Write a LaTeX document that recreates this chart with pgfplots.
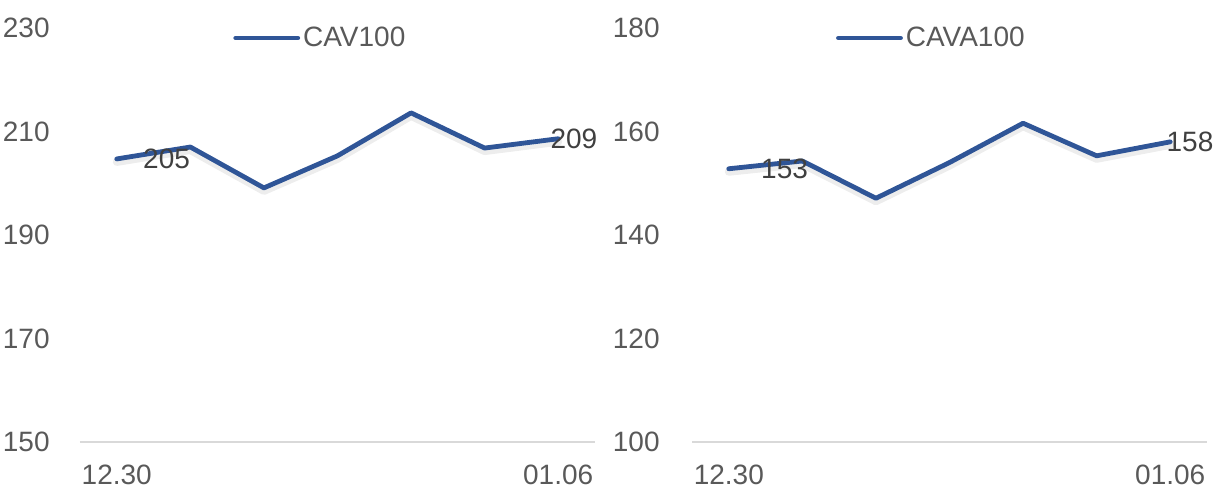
\documentclass[border=0pt]{standalone}
\usepackage{fontspec}
\setmainfont{Liberation Sans}
\usepackage{pgfplots}
\pgfplotsset{compat=1.18}

\definecolor{lineblue}{HTML}{2F5597}
\definecolor{ticktext}{HTML}{595959}
\definecolor{labeltext}{HTML}{404040}
\definecolor{axisgray}{HTML}{D9D9D9}

% 1 px of the reference = 0.5pt
\pgfplotsset{
  idx/.style={
    scale only axis,
    width=257.5pt, height=207pt,
    xmin=-0.5, xmax=6.5,
    xtick={0,6}, xticklabels={12.30,01.06},
    axis x line*=bottom, axis y line*=left,
    y axis line style={draw=none},
    x axis line style={color=axisgray, line width=0.75pt, -},
    tick style={draw=none},
    /pgf/number format/assume math mode=true,
    tick label style={font=\fontsize{14}{16}\selectfont, text=ticktext},
    xticklabel style={anchor=center, inner sep=0pt, yshift=-16.5pt},
    clip=false,
    legend style={draw=none, fill=none, inner sep=0pt, anchor=west,
      at={(0.297,0.976)},
      font=\fontsize{14}{16}\selectfont, text=ticktext,
      nodes={inner sep=0pt, anchor=west},
      /tikz/every odd column/.append style={column sep=1.5pt}},
    legend image code/.code={\draw[#1] (0pt,0pt) -- (31pt,0pt);},
  },
  serie/.style={color=lineblue, line width=2.4pt, line join=round, line cap=round},
  shade/.style={color=black, opacity=0.07, line width=4pt, line join=round,
    line cap=round, yshift=-1.5pt, forget plot},
  lab/.style={draw=none, nodes near coords, point meta=explicit symbolic,
    nodes near coords style={anchor=west, inner sep=0pt, text=labeltext,
      font=\fontsize{14}{16}\selectfont, xshift=#1}},
}

\pgfplotstableread{
x y
0 204.7
1 207.0
2 199.1
3 205.3
4 213.6
5 206.8
6 208.6
}\cav

\pgfplotstableread{
x y
0 152.8
1 154.3
2 147.1
3 154.0
4 161.6
5 155.3
6 158.0
}\cava

\begin{document}
\begin{tikzpicture}
\begin{axis}[idx, at={(40pt,27pt)}, anchor=south west,
  ymin=150, ymax=230, ytick={150,170,190,210,230},
  yticklabel style={anchor=east, inner sep=0pt, xshift=-15pt}]
\addplot[shade] table {\cav};
\addplot[serie] table {\cav};
\addlegendentry{CAV100}
\addplot[lab=13pt, forget plot] coordinates {(0,204.7)[205]};
\addplot[lab=-4pt, forget plot] coordinates {(6,208.6)[209]};
\end{axis}

\begin{axis}[idx, at={(346pt,27pt)}, anchor=south west,
  ymin=100, ymax=180, ytick={100,120,140,160,180},
  yticklabel style={anchor=east, inner sep=0pt, xshift=-16pt},
  legend style={at={(0.279,0.976)}}]
\addplot[shade] table {\cava};
\addplot[serie] table {\cava};
\addlegendentry{CAVA100}
\addplot[lab=16pt, forget plot] coordinates {(0,152.8)[153]};
\addplot[lab=-2pt, forget plot] coordinates {(6,158.0)[158]};
\end{axis}

\pgfresetboundingbox
\path[use as bounding box] (0,0) rectangle (609.5pt,248pt);
\end{tikzpicture}
\end{document}
